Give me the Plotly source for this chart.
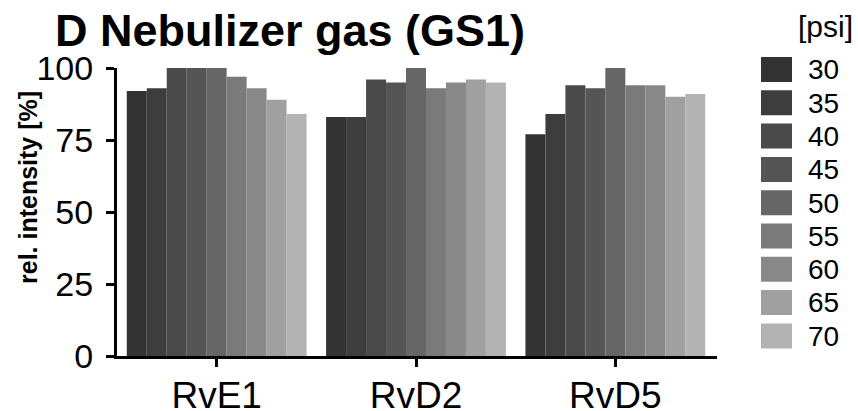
import plotly.graph_objects as go

categories = ["RvE1", "RvD2", "RvD5"]
pressures = ["30", "35", "40", "45", "50", "55", "60", "65", "70"]
values = {
    "30": [92, 83, 77],
    "35": [93, 83, 84],
    "40": [100, 96, 94],
    "45": [100, 95, 93],
    "50": [100, 100, 100],
    "55": [97, 93, 94],
    "60": [93, 95, 94],
    "65": [89, 96, 90],
    "70": [84, 95, 91],
}
colors = ["#333333", "#3d3d3d", "#4a4a4a", "#555555", "#666666",
          "#7a7a7a", "#888888", "#a0a0a0", "#b3b3b3"]
y_ticks = [0, 25, 50, 75, 100]

FONT = "Arial, 'Liberation Sans', sans-serif"

W, H = 858, 411
ML, MR, MT, MB = 117, 2, 4, 411 - 356
PW = W - ML - MR
PH = H - MT - MB

def px_x(rx):
    return (rx - ML) / PW

def px_y(ry):
    return (H - MB - ry) / PH

fig = go.Figure()
for p, c in zip(pressures, colors):
    fig.add_trace(go.Bar(
        x=categories, y=values[p], name=p,
        marker=dict(color=c, line=dict(width=0)),
        showlegend=False, xaxis="x", yaxis="y",
    ))

# legend drawn as a small horizontal bar chart on its own axes
fig.add_trace(go.Bar(
    y=pressures, x=[1] * len(pressures), orientation="h",
    marker=dict(color=colors, line=dict(width=0)),
    width=0.75, showlegend=False, xaxis="x2", yaxis="y2",
    hoverinfo="skip",
))

fig.update_layout(
    width=W, height=H,
    margin=dict(l=ML, r=MR, t=MT, b=MB, autoexpand=False),
    paper_bgcolor="white", plot_bgcolor="white",
    barmode="group", bargap=0.098, bargroupgap=0,
    font=dict(family=FONT, color="black"),
    title=dict(
        text="<b>D Nebulizer gas (GS1)</b>",
        font=dict(size=45, family=FONT, color="black"),
        xref="container", yref="container",
        x=55 / W, xanchor="left", y=1 - 30 / H, yanchor="middle",
        pad=dict(l=0, r=0, t=0, b=0),
    ),
    xaxis=dict(
        domain=[0, px_x(717)], type="category", range=[-0.5, 2.51],
        showline=True, linewidth=3, linecolor="black",
        ticks="outside", ticklen=8, tickwidth=3, tickcolor="black",
        tickfont=dict(size=37, family=FONT, color="black"),
        ticklabelstandoff=-3,
        showgrid=False, zeroline=False, fixedrange=True, automargin=False,
    ),
    yaxis=dict(
        domain=[0, px_y(68)], range=[0, 100],
        tickvals=y_ticks, ticktext=[str(v) for v in y_ticks],
        showline=True, linewidth=3, linecolor="black",
        ticks="outside", ticklen=8, tickwidth=3, tickcolor="black",
        tickfont=dict(size=34, family=FONT, color="black"),
        ticklabelstandoff=6,
        showgrid=False, zeroline=False, fixedrange=True, automargin=False,
    ),
    xaxis2=dict(
        domain=[px_x(761), px_x(792)], range=[0, 1], anchor="y2",
        visible=False, fixedrange=True, automargin=False,
    ),
    yaxis2=dict(
        domain=[px_y(69.5 + 8.5 * 33.3), px_y(69.5 - 0.5 * 33.3)],
        anchor="x2", side="right", type="category",
        range=[8.5, -0.5], tickmode="array", tickvals=pressures,
        ticktext=pressures,
        showline=False, showgrid=False, zeroline=False, ticks="",
        ticklabelstandoff=15,
        tickfont=dict(size=28, family=FONT, color="black"),
        fixedrange=True, automargin=False,
    ),
    annotations=[
        dict(
            text="<b>rel. intensity [%]</b>", textangle=-90,
            xref="paper", yref="paper", x=px_x(28), y=px_y(188),
            xanchor="center", yanchor="middle", showarrow=False,
            font=dict(size=25, family=FONT, color="black"),
        ),
        dict(
            text="[psi]",
            xref="paper", yref="paper", x=px_x(796), y=px_y(27),
            xanchor="left", yanchor="middle", showarrow=False,
            font=dict(size=30, family=FONT, color="black"),
        ),
    ],
)

fig.write_html(
    "out.html",
    config={"displayModeBar": False, "staticPlot": True},
    post_script="document.body.style.margin='0';document.body.style.overflow='hidden';",
)
